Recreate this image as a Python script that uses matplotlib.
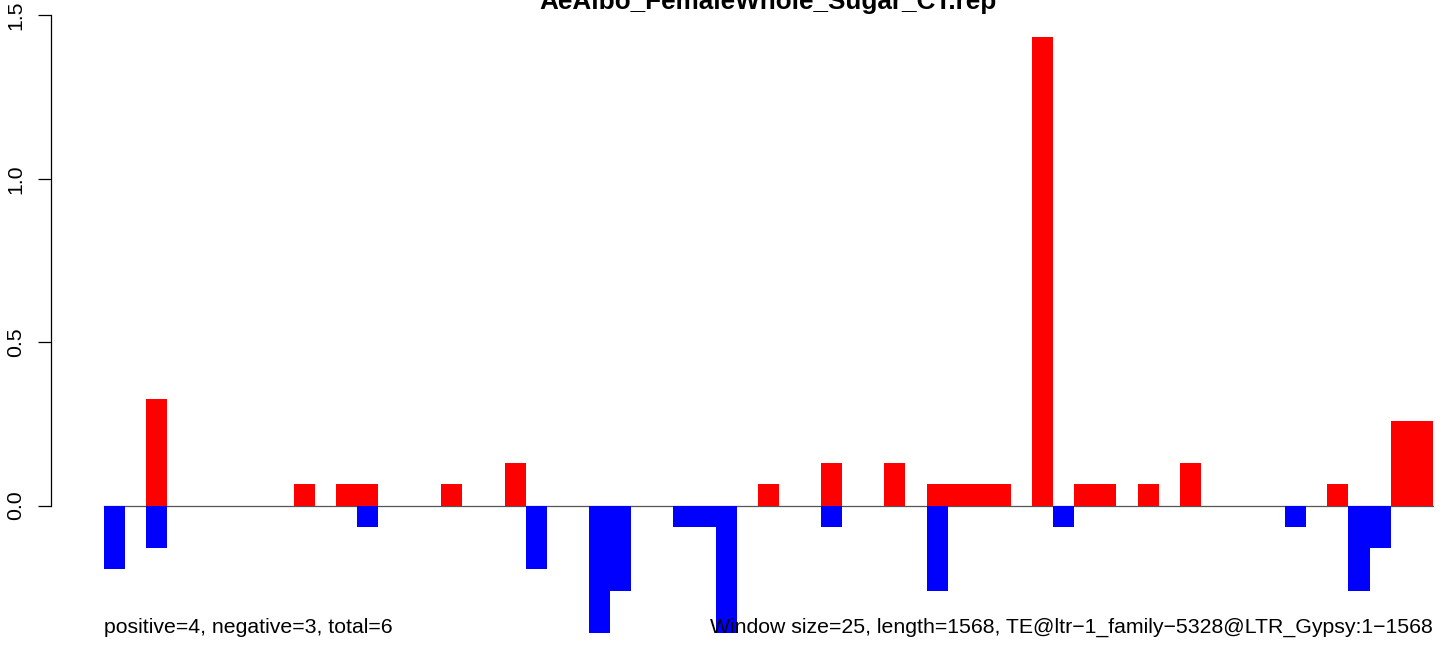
import matplotlib
matplotlib.use('Agg')
import matplotlib.pyplot as plt
import numpy as np

plt.rcParams['font.family'] = ['Liberation Sans', 'DejaVu Sans']

title = 'AeAlbo_FemaleWhole_Sugar_CT.rep'
window_size = 25
seq_length = 1568
left_note = 'positive=4, negative=3, total=6'
right_note = 'Window size=25, length=1568, TE@ltr\u22121_family\u22125328@LTR_Gypsy:1\u22121568'

# per-window values (63 windows of 25 bp)
pos_values = [0, 0, 0.325, 0, 0, 0, 0, 0, 0, 0.065,
              0, 0.065, 0.065, 0, 0, 0, 0.065, 0, 0, 0.13,
              0, 0, 0, 0, 0, 0, 0, 0, 0, 0,
              0, 0.065, 0, 0, 0.13, 0, 0, 0.13, 0, 0.065,
              0.065, 0.065, 0.065, 0, 1.435, 0, 0.065, 0.065, 0, 0.065,
              0, 0.13, 0, 0, 0, 0, 0, 0, 0.065, 0,
              0, 0.26, 0.26]
neg_values = [-0.195, 0, -0.13, 0, 0, 0, 0, 0, 0, 0,
              0, 0, -0.065, 0, 0, 0, 0, 0, 0, 0,
              -0.195, 0, 0, -0.39, -0.26, 0, 0, -0.065, -0.065, -0.39,
              0, 0, 0, 0, -0.065, 0, 0, 0, 0, -0.26,
              0, 0, 0, 0, 0, -0.065, 0, 0, 0, 0,
              0, 0, 0, 0, 0, 0, -0.065, 0, 0, -0.26,
              -0.13, 0, 0]
y_ticks = [0.0, 0.5, 1.0, 1.5]

W, H = 1452, 646
fig = plt.figure(figsize=(W / 100, H / 100), dpi=100)

# R-like plot region, partly outside the saved image
px_left, px_right, px_top, px_bottom = 50.7, 1486, 12.7, 657
ax = fig.add_axes([px_left / W, (H - px_bottom) / H,
                   (px_right - px_left) / W, (px_bottom - px_top) / H])

n_win = len(pos_values)
starts = np.arange(n_win) * window_size
span = n_win * window_size
ymin, ymax = min(neg_values), max(pos_values)
ax.set_xlim(-0.04 * span, span * 1.04)
ax.set_ylim(ymin - 0.04 * (ymax - ymin), ymax + 0.04 * (ymax - ymin))

ax.plot([0, span], [0, 0], color='#555555', lw=0.9, zorder=1)
ax.bar(starts, pos_values, width=window_size, align='edge', color='#ff0000', linewidth=0, zorder=2)
ax.bar(starts, neg_values, width=window_size, align='edge', color='#0000ff', linewidth=0, zorder=2)

for s in ['top', 'right', 'bottom']:
    ax.spines[s].set_visible(False)
ax.spines['left'].set_bounds(y_ticks[0], y_ticks[-1])
ax.spines['left'].set_linewidth(0.9)
ax.set_xticks([])
ax.set_yticks(y_ticks)
ax.set_yticklabels(['%.1f' % t for t in y_ticks], rotation=90, va='center', fontsize=15.3)
ax.tick_params(axis='y', length=9.5, width=0.9, pad=9)

ax.text(0, ymin, left_note, ha='left', va='baseline', fontsize=15.3, zorder=3)
ax.text(span, ymin, right_note, ha='right', va='baseline', fontsize=15.3, zorder=3)

fig.text((px_left + px_right) / 2 / W, 1 - 9.5 / H, title, ha='center', va='baseline',
         fontsize=18.8, fontweight='bold')

fig.savefig('out.png', dpi=100)
